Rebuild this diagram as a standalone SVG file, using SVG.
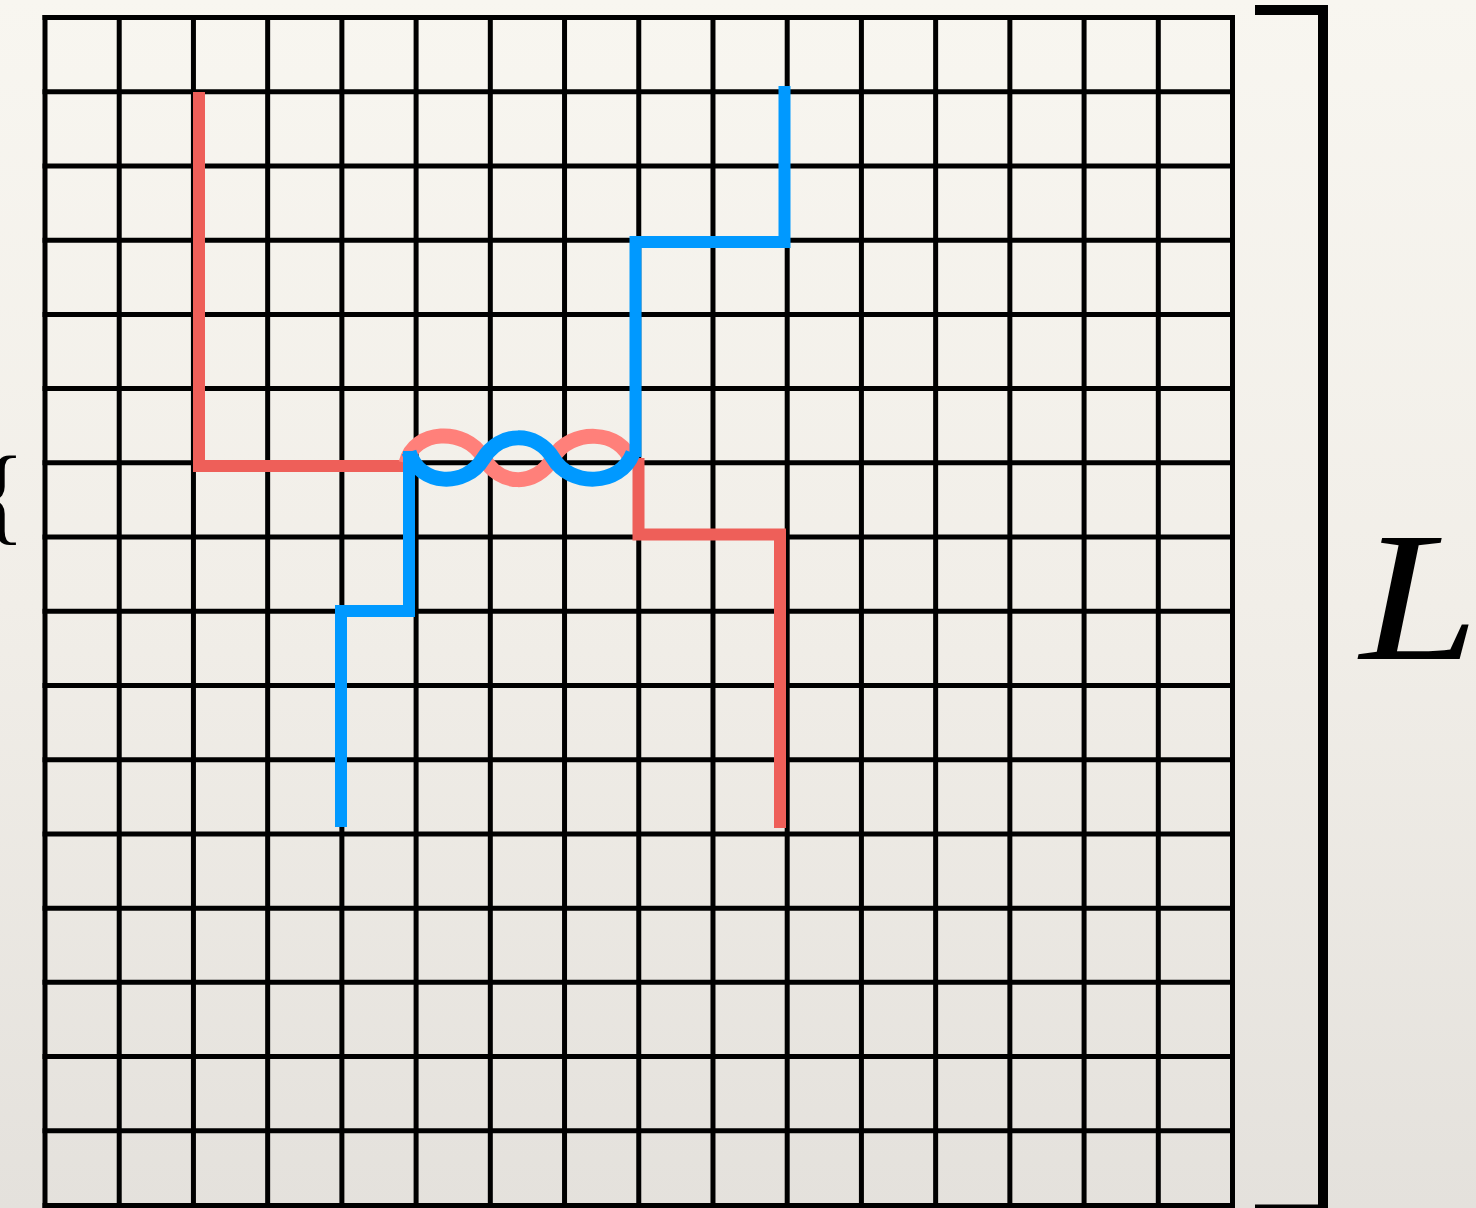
<svg xmlns="http://www.w3.org/2000/svg" width="1476" height="1208" viewBox="0 0 1476 1208">
<defs>
<linearGradient id="paper" x1="0" y1="0" x2="0" y2="1">
<stop offset="0" stop-color="#F8F6F0"/>
<stop offset="0.5" stop-color="#F1EEE8"/>
<stop offset="1" stop-color="#E4E1DC"/>
</linearGradient>
<style>
.grid line{stroke:#000;stroke-width:5}
.red{fill:none;stroke:#EE5F59;stroke-width:12;stroke-linejoin:miter;stroke-linecap:butt}
.pink{fill:none;stroke:#FF807A;stroke-width:15;stroke-linecap:butt}
.blue{fill:none;stroke:#0099FF;stroke-width:12;stroke-linejoin:miter;stroke-linecap:butt}
.bluew{fill:none;stroke:#0099FF;stroke-width:15;stroke-linecap:butt}
.lbl{font-family:"Liberation Serif","Times New Roman",serif;fill:#000}
</style>
</defs>
<rect x="0" y="0" width="1476" height="1208" fill="url(#paper)"/>
<g id="grid" class="grid">
<line x1="45" y1="15" x2="45" y2="1208"/>
<line x1="119.22" y1="15" x2="119.22" y2="1208"/>
<line x1="193.44" y1="15" x2="193.44" y2="1208"/>
<line x1="267.66" y1="15" x2="267.66" y2="1208"/>
<line x1="341.88" y1="15" x2="341.88" y2="1208"/>
<line x1="416.1" y1="15" x2="416.1" y2="1208"/>
<line x1="490.32" y1="15" x2="490.32" y2="1208"/>
<line x1="564.54" y1="15" x2="564.54" y2="1208"/>
<line x1="638.76" y1="15" x2="638.76" y2="1208"/>
<line x1="712.98" y1="15" x2="712.98" y2="1208"/>
<line x1="787.2" y1="15" x2="787.2" y2="1208"/>
<line x1="861.42" y1="15" x2="861.42" y2="1208"/>
<line x1="935.64" y1="15" x2="935.64" y2="1208"/>
<line x1="1009.86" y1="15" x2="1009.86" y2="1208"/>
<line x1="1084.08" y1="15" x2="1084.08" y2="1208"/>
<line x1="1158.3" y1="15" x2="1158.3" y2="1208"/>
<line x1="1232.5" y1="15" x2="1232.5" y2="1208"/>
<line x1="42.5" y1="17.5" x2="1235" y2="17.5"/>
<line x1="42.5" y1="91.72" x2="1235" y2="91.72"/>
<line x1="42.5" y1="165.94" x2="1235" y2="165.94"/>
<line x1="42.5" y1="240.16" x2="1235" y2="240.16"/>
<line x1="42.5" y1="314.38" x2="1235" y2="314.38"/>
<line x1="42.5" y1="388.6" x2="1235" y2="388.6"/>
<line x1="42.5" y1="462.82" x2="1235" y2="462.82"/>
<line x1="42.5" y1="537.04" x2="1235" y2="537.04"/>
<line x1="42.5" y1="611.26" x2="1235" y2="611.26"/>
<line x1="42.5" y1="685.48" x2="1235" y2="685.48"/>
<line x1="42.5" y1="759.7" x2="1235" y2="759.7"/>
<line x1="42.5" y1="833.92" x2="1235" y2="833.92"/>
<line x1="42.5" y1="908.14" x2="1235" y2="908.14"/>
<line x1="42.5" y1="982.36" x2="1235" y2="982.36"/>
<line x1="42.5" y1="1056.58" x2="1235" y2="1056.58"/>
<line x1="42.5" y1="1130.8" x2="1235" y2="1130.8"/>
<line x1="42.5" y1="1205.5" x2="1235" y2="1205.5"/>
</g>
<g id="bracket">
<path d="M1255,10 H1323 V1209.5 H1255" fill="none" stroke="#000" stroke-width="10" stroke-linejoin="miter"/>
</g>
<g id="labels">
<text class="lbl" transform="translate(1360,659) scale(1.16,1)" font-size="184" font-style="italic">L</text>
<text class="lbl" transform="translate(-23,531) scale(1,1.08)" font-size="100">{</text>
</g>
<g id="connectors">
<path id="red-path-a" class="red" d="M199,92 V466 H408"/>
<path id="red-path-b" class="red" d="M638.5,458 V534.5 H780 V828"/>
<path id="pink-wave" class="pink" d="M406,463 C414,429 465,427 483,457 C500,487 536,487 553,458 C570,428 622,429 631,462"/>
<path id="blue-path-a" class="blue" d="M784.5,86 V242 H635.5 V457"/>
<path id="blue-path-b" class="blue" d="M409,451 V611 H341 V827"/>
<path id="blue-wave" class="bluew" d="M409,452 C420,487 466,487 483,459 C500,431 536,431 553,458 C570,487 620,487 633,453"/>
</g>
</svg>
